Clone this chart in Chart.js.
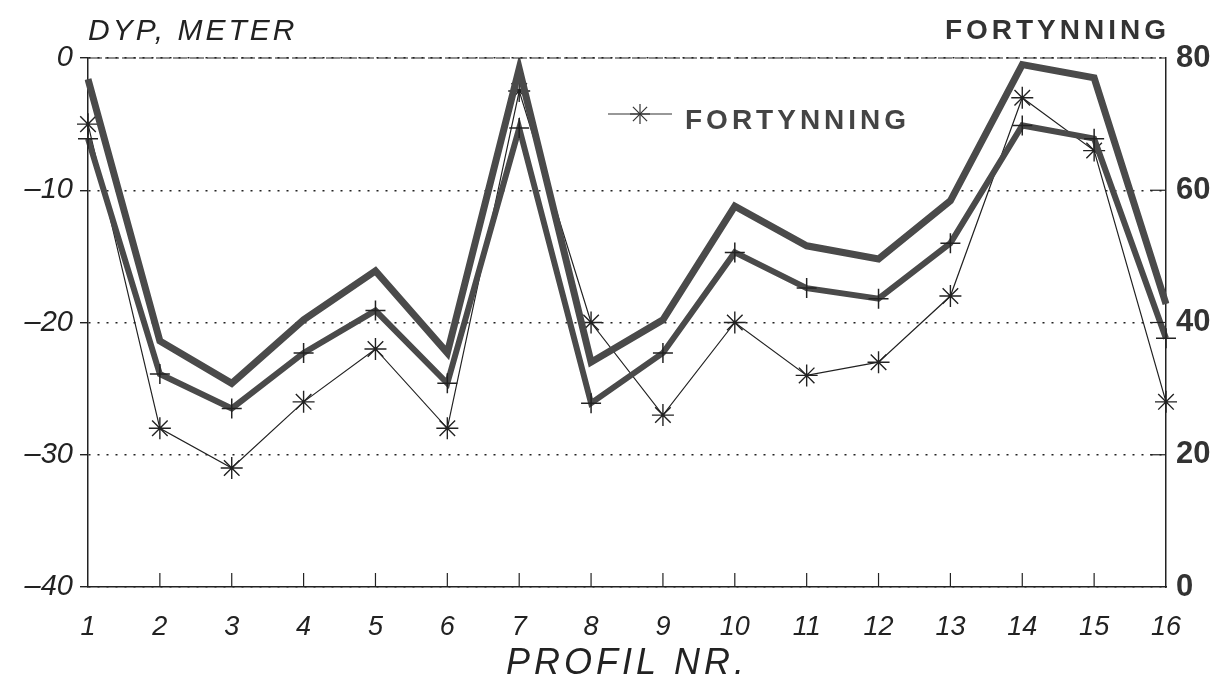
<!DOCTYPE html>
<html>
<head>
<meta charset="utf-8">
<script src="https://cdn.jsdelivr.net/npm/chart.js@4"></script>
<style>
  html, body { margin: 0; padding: 0; background: #fff; }
  #wrap { position: relative; width: 1223px; height: 686px; }
</style>
</head>
<body>
<div id="wrap"><canvas id="myChart" width="1223" height="686"></canvas></div>
<script>
// profile numbers
const profiler = ['1','2','3','4','5','6','7','8','9','10','11','12','13','14','15','16'];
// depth, meter (thick top line)
const dypA = [-1.6, -21.4, -24.6, -19.8, -16.1, -22.3, -0.8, -23.0, -19.8, -11.2, -14.2, -15.2, -10.8, -0.5, -1.5, -18.6];
// depth, meter (line with + markers)
const dypB = [-6.1, -23.9, -26.5, -22.3, -19.1, -24.6, -5.3, -26.1, -22.3, -14.7, -17.4, -18.2, -14.0, -5.1, -6.1, -21.2];
// dilution (right axis)
const fortynning = [70, 24, 18, 28, 36, 24, 75, 40, 26, 40, 32, 34, 44, 74, 66, 28];

const leftTicks = [0, -10, -20, -30, -40];
const rightTicks = [0, 20, 40, 60, 80];

const ink = '#222';
const lineGrey = '#4a4a4a';
const fam = '"Liberation Sans", Arial, sans-serif';

// extra marks: inward ticks, dashed top edge, legend and axis headers
const extras = {
  id: 'extras',
  afterDraw(chart) {
    const c = chart.ctx, x = chart.scales.x, y1 = chart.scales.y1, a = chart.chartArea;
    c.save();
    c.strokeStyle = ink;
    c.lineWidth = 1.2;
    for (let i = 1; i < profiler.length - 1; i++) {
      const px = x.getPixelForValue(i);
      c.beginPath(); c.moveTo(px, a.bottom); c.lineTo(px, a.bottom - 14); c.stroke();
    }
    for (const v of [20, 40, 60]) {
      const py = y1.getPixelForValue(v);
      c.beginPath(); c.moveTo(a.right, py); c.lineTo(a.right - 16, py); c.stroke();
    }
    c.setLineDash([14, 3]);
    c.beginPath(); c.moveTo(a.left, a.top); c.lineTo(a.right, a.top); c.stroke();
    c.setLineDash([]);

    // legend
    const ly = 114;
    c.strokeStyle = '#333';
    c.lineWidth = 1.2;
    c.beginPath(); c.moveTo(608, ly); c.lineTo(672, ly); c.stroke();
    const cx = 640, r = 10;
    for (let k = 0; k < 4; k++) {
      const ang = k * Math.PI / 4;
      c.beginPath();
      c.moveTo(cx - r * Math.cos(ang), ly - r * Math.sin(ang));
      c.lineTo(cx + r * Math.cos(ang), ly + r * Math.sin(ang));
      c.stroke();
    }
    c.fillStyle = '#444';
    c.textBaseline = 'alphabetic';
    c.textAlign = 'left';
    c.font = 'bold 28px ' + fam;
    c.letterSpacing = '4px';
    c.fillText('FORTYNNING', 685, 129);

    // axis headers
    c.fillStyle = '#333';
    c.textAlign = 'right';
    c.fillText('FORTYNNING', 1170, 39);

    c.fillStyle = ink;
    c.textAlign = 'left';
    c.font = 'italic 30px ' + fam;
    c.letterSpacing = '3px';
    c.fillText('DYP, METER', 88, 40);

    c.textAlign = 'center';
    c.font = 'italic 36px ' + fam;
    c.letterSpacing = '4px';
    c.fillText('PROFIL NR.', 627, 674);
    c.restore();
  }
};

new Chart(document.getElementById('myChart'), {
  type: 'line',
  data: {
    labels: profiler,
    datasets: [
      {
        label: 'DYP A',
        data: dypA,
        yAxisID: 'y',
        borderColor: lineGrey,
        borderWidth: 7,
        pointRadius: 0,
        tension: 0
      },
      {
        label: 'DYP B',
        data: dypB,
        yAxisID: 'y',
        borderColor: lineGrey,
        borderWidth: 6,
        pointStyle: 'cross',
        pointRadius: 10,
        pointBorderWidth: 1.5,
        pointBorderColor: '#222',
        tension: 0
      },
      {
        label: 'FORTYNNING',
        data: fortynning,
        yAxisID: 'y1',
        borderColor: '#222',
        borderWidth: 1.2,
        pointStyle: 'star',
        pointRadius: 11,
        pointBorderWidth: 1.4,
        pointBorderColor: '#222',
        tension: 0
      }
    ]
  },
  options: {
    responsive: false,
    animation: false,
    layout: { padding: { top: 58, left: 0, right: 0, bottom: 0 } },
    plugins: {
      legend: { display: false },
      tooltip: { enabled: false }
    },
    scales: {
      x: {
        offset: false,
        grid: { display: false, drawTicks: false },
        border: { color: ink, width: 1.5 },
        ticks: {
          color: ink,
          font: { family: fam, style: 'italic', size: 27 },
          padding: 24,
          maxRotation: 0
        },
        afterFit(s) { s.height = 99; }
      },
      y: {
        position: 'left',
        min: -40,
        max: 0,
        afterBuildTicks(s) { s.ticks = leftTicks.map(v => ({ value: v })); },
        grid: {
          color: ink,
          lineWidth: 1.4,
          tickLength: 8,
          drawTicks: true
        },
        border: { color: ink, width: 1.5, dash: [2, 7] },
        ticks: {
          color: ink,
          font: { family: fam, style: 'italic', size: 29 },
          padding: 7,
          callback: v => String(v).replace('-', '\u2013')
        },
        afterFit(s) { s.width = 88; }
      },
      y1: {
        position: 'right',
        min: 0,
        max: 80,
        afterBuildTicks(s) { s.ticks = rightTicks.map(v => ({ value: v })); },
        grid: { drawOnChartArea: false, drawTicks: false },
        border: { color: ink, width: 1.5 },
        ticks: {
          color: '#333',
          font: { family: fam, weight: 'bold', size: 31 },
          padding: 10
        },
        afterFit(s) { s.width = 57; }
      }
    }
  },
  plugins: [extras]
});
</script>
</body>
</html>
